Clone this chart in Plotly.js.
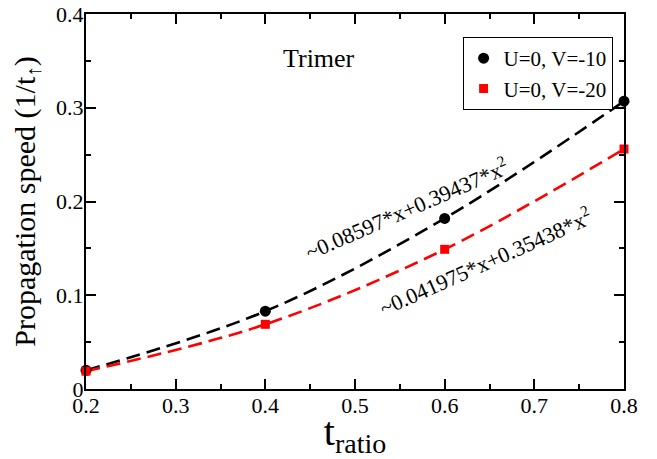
<!DOCTYPE html>
<html><head><meta charset="utf-8">
<script src="https://cdn.plot.ly/plotly-3.0.1.min.js"></script>
<style>html,body{margin:0;padding:0;background:#fff}#c{width:657px;height:459px}</style>
</head><body><div id="c"></div>
<script>
const tRatio = [0.2, 0.4, 0.6, 0.8];
const speedV10 = [0.020, 0.083, 0.182, 0.307];
const speedV20 = [0.019, 0.069, 0.149, 0.256];
const seriesNames = ["U=0, V=-10", "U=0, V=-20"];
const fitLabels = ["~0.08597*x+0.39437*x<sup>2</sup>", "~0.041975*x+0.35438*x<sup>2</sup>"];

const serif = "Liberation Serif";
const traces = [
  {x: tRatio, y: speedV10, mode: "lines", line: {color: "#000", dash: "14px,7px", width: 2.6, shape: "spline"}, showlegend: false, hoverinfo: "skip"},
  {x: tRatio, y: speedV20, mode: "lines", line: {color: "#ff0000", dash: "14px,7px", width: 2.6, shape: "spline"}, showlegend: false, hoverinfo: "skip"},
  {x: tRatio, y: speedV10, mode: "markers", name: seriesNames[0], cliponaxis: false, marker: {color: "#000", symbol: "circle", size: 11}},
  {x: tRatio, y: speedV20, mode: "markers", name: seriesNames[1], cliponaxis: false, marker: {color: "#ff0000", symbol: "square", size: 9}}
];
const axisCommon = {
  showgrid: false, zeroline: false, showline: true, linecolor: "#000", linewidth: 2,
  mirror: "ticks", ticks: "inside", ticklen: 10, tickwidth: 2, tickcolor: "#000",
  tickfont: {family: serif, size: 22, color: "#000"},
  minor: {ticks: "inside", ticklen: 5, tickwidth: 2, tickcolor: "#000", dtick: 0.05}
};
const layout = {
  width: 657, height: 459,
  font: {family: serif, size: 21, color: "#000"},
  margin: {l: 86, r: 33, t: 14, b: 70},
  paper_bgcolor: "#fff", plot_bgcolor: "#fff",
  showlegend: true,
  legend: {x: 0.700, y: 0.9385, xanchor: "left", yanchor: "top", bgcolor: "#fff", bordercolor: "#000", borderwidth: 1,
    font: {family: serif, size: 21, color: "#000"}, tracegroupgap: 0},
  xaxis: Object.assign({}, axisCommon, {range: [0.2, 0.8], dtick: 0.1, tick0: 0.2, ticklabelstandoff: -4,
    title: {text: "t<sub>ratio</sub>", font: {family: serif, size: 40, color: "#000"}, standoff: 0}}),
  yaxis: Object.assign({}, axisCommon, {range: [0, 0.4], dtick: 0.1, tick0: 0, ticklabelstandoff: -4,
    title: {text: "Propagation speed (1/t<sub>↑</sub>)", font: {family: serif, size: 30, color: "#000"}, standoff: 12}}),
  annotations: [
    {xref: "paper", yref: "paper", x: 0.434, y: 0.925, text: "Trimer", showarrow: false, font: {family: serif, size: 26, color: "#000"}},
    {xref: "x", yref: "y", x: 0.5575, y: 0.193, text: fitLabels[0], showarrow: false, textangle: -23.5, font: {family: serif, size: 22, color: "#000"}},
    {xref: "x", yref: "y", x: 0.645, y: 0.137, text: fitLabels[1], showarrow: false, textangle: -24, font: {family: serif, size: 22, color: "#000"}}
  ]
};
Plotly.newPlot("c", traces, layout, {staticPlot: true, displayModeBar: false});
</script></body></html>
